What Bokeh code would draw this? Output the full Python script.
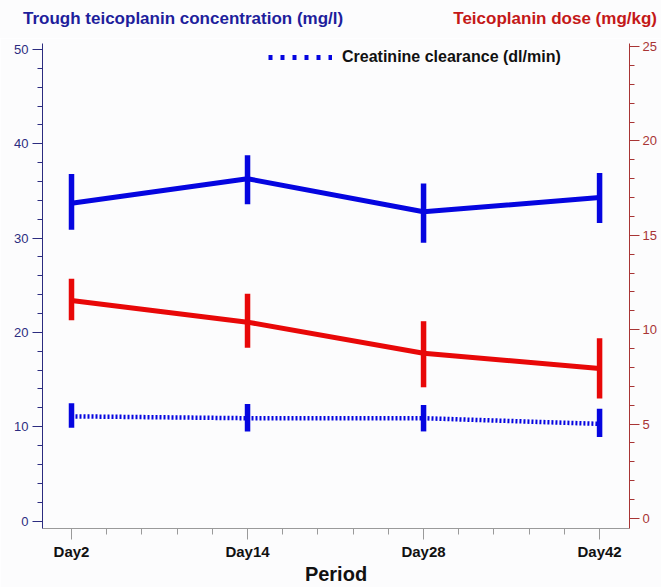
from bokeh.plotting import figure
from bokeh.layouts import column
from bokeh.models import (Range1d, LinearAxis, FixedTicker, Legend,
                          LegendItem, Div)
from bokeh.embed import file_html
from bokeh.resources import INLINE

# ---- data ----
periods = ["Day2", "Day14", "Day28", "Day42"]

trough_mean = [33.7, 36.3, 32.8, 34.3]
trough_lo = [30.9, 33.6, 29.5, 31.6]
trough_hi = [36.8, 38.8, 35.8, 36.9]

dose_mean = [11.55, 10.4, 8.75, 7.95]
dose_lo = [10.5, 9.05, 6.95, 6.35]
dose_hi = [12.7, 11.9, 10.45, 9.55]

crcl_mean = [11.1, 10.9, 10.9, 10.3]
crcl_lo = [9.9, 9.5, 9.5, 8.9]
crcl_hi = [12.5, 12.4, 12.3, 11.9]

left_ticks = [0, 10, 20, 30, 40, 50]
right_ticks = [0, 5, 10, 15, 20, 25]

left_title = "Trough teicoplanin concentration (mg/l)"
right_title = "Teicoplanin dose (mg/kg)"
legend_label = "Creatinine clearance (dl/min)"
x_title = "Period"

# ---- styles ----
BLUE = "#0505e0"
RED = "#e80808"
LEFT_AX = "#2c2c80"
RIGHT_AX = "#a83434"
BG = "#fcfcfd"
FONT = "Liberation Sans"
HDR_H = 38

xs = list(range(len(periods)))

# header with the two coloured axis titles
hdr_html = (
    '<div style="position:relative;width:661px;height:%dpx;margin:0;'
    'font-family:\'Liberation Sans\',Arial,sans-serif;font-weight:bold;'
    'font-size:17px;line-height:20px;background:%s;">'
    '<span style="position:absolute;left:23px;top:9px;color:#1e1e9c;'
    'white-space:nowrap;">%s</span>'
    '<span style="position:absolute;right:4px;top:9px;color:#c41818;'
    'white-space:nowrap;">%s</span></div>'
) % (HDR_H, BG, left_title, right_title)
hdr = Div(text=hdr_html, width=661, height=HDR_H, margin=0)

p = figure(width=661, height=587 - HDR_H, output_backend="svg",
           toolbar_location=None, margin=0,
           x_range=Range1d(-0.1648, 3.170), y_range=Range1d(-0.795, 50.64),
           min_border_left=42, min_border_right=32, min_border_top=43 - HDR_H,
           min_border_bottom=59, background_fill_color=BG,
           border_fill_color=BG)
p.extra_y_ranges = {"dose": Range1d(-0.53, 25.16)}
p.xgrid.visible = False
p.ygrid.visible = False
p.outline_line_color = None

# bottom axis
xa = p.xaxis[0]
x_minor = [i + k * 0.2 for i in xs for k in range(1, 5) if i < xs[-1]]
xa.ticker = FixedTicker(ticks=xs, minor_ticks=x_minor)
xa.major_label_overrides = {i: name for i, name in zip(xs, periods)}
xa.axis_line_color = "#9a9a9a"
xa.major_tick_line_color = "#9a9a9a"
xa.minor_tick_line_color = "#9a9a9a"
xa.major_tick_out = 11
xa.major_tick_in = 0
xa.minor_tick_out = 6
xa.minor_tick_in = 0
xa.major_label_text_font = FONT
xa.major_label_text_font_style = "bold"
xa.major_label_text_font_size = "15px"
xa.major_label_text_color = "#111111"
xa.major_label_standoff = 3
xa.axis_label = x_title
xa.axis_label_text_font = FONT
xa.axis_label_text_font_style = "bold"
xa.axis_label_text_font_size = "20px"
xa.axis_label_text_color = "#111111"
xa.axis_label_standoff = 0

# left axis
ya = p.yaxis[0]
ya.ticker = FixedTicker(ticks=left_ticks,
                        minor_ticks=list(range(left_ticks[0], left_ticks[-1] + 1, 2)))
ya.axis_line_color = LEFT_AX
ya.major_tick_line_color = LEFT_AX
ya.minor_tick_line_color = LEFT_AX
ya.major_tick_out = 10
ya.major_tick_in = 0
ya.minor_tick_out = 5
ya.minor_tick_in = 0
ya.major_label_text_font = FONT
ya.major_label_text_font_size = "13px"
ya.major_label_text_color = LEFT_AX
ya.major_label_standoff = 4

# right axis
ra = LinearAxis(y_range_name="dose",
                ticker=FixedTicker(ticks=right_ticks,
                                   minor_ticks=list(range(right_ticks[0], right_ticks[-1] + 1))))
ra.axis_line_color = RIGHT_AX
ra.major_tick_line_color = RIGHT_AX
ra.minor_tick_line_color = RIGHT_AX
ra.major_tick_out = 10
ra.major_tick_in = 0
ra.minor_tick_out = 5
ra.minor_tick_in = 0
ra.major_label_text_font = FONT
ra.major_label_text_font_size = "13px"
ra.major_label_text_color = RIGHT_AX
ra.major_label_standoff = 3
p.add_layout(ra, "right")

# series
p.line(xs, trough_mean, line_color=BLUE, line_width=5)
p.segment(xs, trough_lo, xs, trough_hi, line_color=BLUE, line_width=5.5)

p.line(xs, dose_mean, line_color=RED, line_width=5, y_range_name="dose")
p.segment(xs, dose_lo, xs, dose_hi, line_color=RED, line_width=5.5,
          y_range_name="dose")

p.line(xs, crcl_mean, line_color=BLUE, line_width=4.5, line_dash="2 2")
p.segment(xs, crcl_lo, xs, crcl_hi, line_color=BLUE, line_width=5.5)

# legend key (a one-point line, so only its legend sample shows)
key = p.line(xs[:1], crcl_mean[:1], line_color=BLUE, line_width=5,
             line_dash="4 8")
legend = Legend(items=[LegendItem(label=legend_label, renderers=[key])],
                location=(226, 461), padding=0, margin=0, glyph_width=64,
                glyph_height=20, label_height=20, label_standoff=10,
                border_line_color=None, background_fill_alpha=0,
                label_text_font=FONT, label_text_font_style="bold",
                label_text_font_size="16px", label_text_color="#111111")
p.add_layout(legend)

layout = column(hdr, p, spacing=0)
open("out.html", "w").write(file_html(layout, INLINE))
